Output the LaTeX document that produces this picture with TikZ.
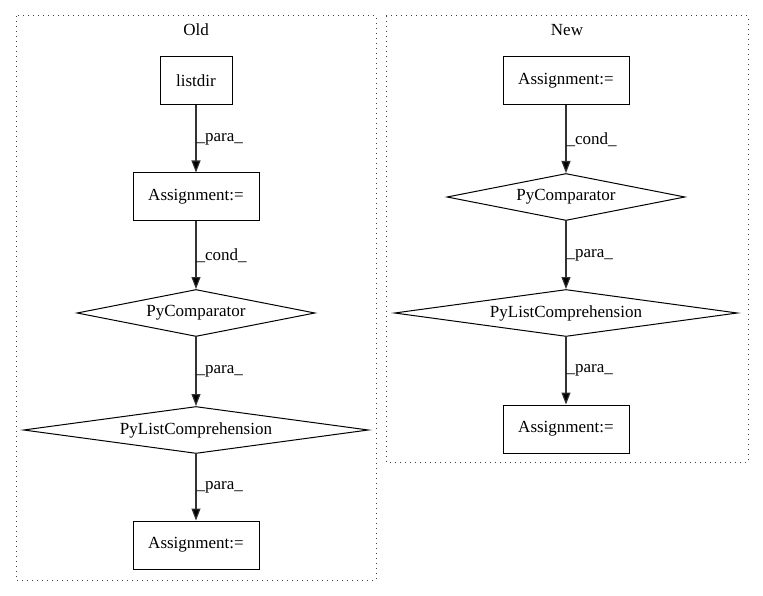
\documentclass[tikz,border=0pt]{standalone}
\usepackage{fontspec}
\setmainfont{Liberation Serif}
\usetikzlibrary{shapes.geometric,arrows.meta}

\tikzset{
  box/.style={draw=black,line width=1pt,rectangle,inner sep=0pt,minimum height=48pt},
  cmp/.style={draw=black,line width=1pt,diamond,inner sep=0pt,minimum height=47pt},
  edge/.style={draw=black!80,line width=1.1pt,-{Triangle[length=12pt,width=9pt,fill=black]}},
  lbl/.style={anchor=west,inner sep=0pt,text=black},
  cluster/.style={draw=black!75,line width=1pt,dash pattern=on 1pt off 4pt},
}

\begin{document}
\begin{tikzpicture}[x=1pt,y=-1pt,font=\fontsize{17}{19}\selectfont]
\useasboundingbox (0,0) rectangle (763,596);

% cluster Old:
\draw[cluster] (16,16) rectangle (376,580);
\path (196,30) node[text=black] (titleOld) {Old};
\path (196,81) node[box,minimum width=72pt] (listdir) {listdir};
\path (196,197) node[box,minimum width=126pt] (asgOldA) {Assignment:=};
\path (196,313) node[cmp,minimum width=238pt,aspect=5.06] (cmpOld) {PyComparator};
\path (196,430) node[cmp,minimum width=345pt,aspect=7.34] (lcOld) {PyListComprehension};
\path (196,545) node[box,minimum width=126pt] (asgOldB) {Assignment:=};
\draw[edge] (listdir) -- node[lbl] {\_para\_} (asgOldA);
\draw[edge] (asgOldA) -- node[lbl] {\_cond\_} (cmpOld);
\draw[edge] (cmpOld) -- node[lbl] {\_para\_} (lcOld);
\draw[edge] (lcOld) -- node[lbl] {\_para\_} (asgOldB);

% cluster New:
\draw[cluster] (386,16) rectangle (748,462);
\path (567,30) node[text=black] (titleNew) {New};
\path (566,81) node[box,minimum width=126pt] (asgNewA) {Assignment:=};
\path (566,197) node[cmp,minimum width=238pt,aspect=5.06] (cmpNew) {PyComparator};
\path (566,313) node[cmp,minimum width=343pt,aspect=7.3] (lcNew) {PyListComprehension};
\path (566,429) node[box,minimum width=126pt] (asgNewB) {Assignment:=};
\draw[edge] (asgNewA) -- node[lbl] {\_cond\_} (cmpNew);
\draw[edge] (cmpNew) -- node[lbl] {\_para\_} (lcNew);
\draw[edge] (lcNew) -- node[lbl] {\_para\_} (asgNewB);

\end{tikzpicture}
\end{document}
